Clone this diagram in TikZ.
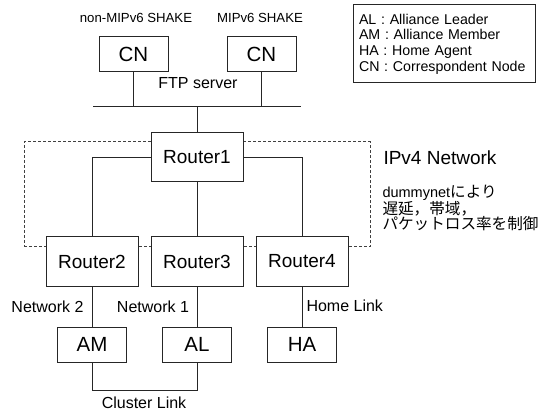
\documentclass[tikz,border=0pt]{standalone}
\usepackage{fontspec}
\setmainfont{Liberation Sans}
\newfontfamily\jpfont{Noto Sans CJK JP}
\newfontfamily\latinfont{Liberation Sans}
\usetikzlibrary{positioning}

\begin{document}
\begin{tikzpicture}[x=1pt, y=-1pt, line width=1pt,
    every node/.style={inner sep=0pt},
    box/.style={rectangle, draw=black!85, fill=white, minimum width=69pt, minimum height=35pt, font=\fontsize{20.5}{24}\selectfont},
    router/.style={rectangle, draw=black!85, fill=white, minimum width=92pt, minimum height=49pt, font=\fontsize{19}{22}\selectfont},
    netbox/.style={rectangle, draw=black!75, dash pattern=on 3pt off 2pt, minimum width=346pt, minimum height=105pt},
    lbl/.style={font=\fontsize{16}{19}\selectfont},
    small/.style={font=\fontsize{13.2}{16}\selectfont},
    legend/.style={rectangle, draw=black!85, minimum width=182pt, minimum height=78pt, text width=170pt, align=left, font=\fontsize{14.2}{15.7}\selectfont},
    note/.style={align=left, font=\jpfont\fontsize{15.6}{15}\selectfont},
    link/.style={draw=black!85}]
    \useasboundingbox (0,0) rectangle (542,412);

    % CN hosts and FTP segment
    \node[small] (labA) at (136,18) {non-MIPv6 SHAKE};
    \node[small] (labB) at (260,18) {MIPv6 SHAKE};
    \node[box] (cnA) at (133.5,54.5) {CN};
    \node[box, right=58pt of cnA] (cnB) {CN};
    \node[lbl] (ftp) at (198,83) {FTP server};
    \coordinate (busL) at (93,107);
    \coordinate (busR) at (301,107);

    % IPv4 Network
    \node[netbox] (ipv4) at (197,194.5) {};
    \node[router] (r1) at (197,157.5) {Router1};
    \node[router, below=54pt of r1] (r3) {Router3};
    \node[router, left=12pt of r3] (r2) {Router2};
    \node[router, right=12pt of r3] (r4) {Router4};

    % Mobile nodes and HA
    \node[box, below=40pt of r2] (am) {AM};
    \node[box, below=40pt of r3] (al) {AL};
    \node[box, below=40pt of r4] (ha) {HA};

    % Link labels
    \node[lbl] (net2) at (47.5,307) {Network 2};
    \node[lbl] (net1) at (153,307) {Network 1};
    \node[lbl, anchor=west] (home) at (306,306) {Home Link};
    \node[lbl] (cluster) at (144,403) {Cluster Link};

    % Legend and notes
    \node[legend] (key) at (444,44) {AL : Alliance Leader\\AM : Alliance Member\\HA : Home Agent\\CN : Correspondent Node};
    \node[font=\fontsize{19}{22}\selectfont, anchor=west] (ipv4lab) at (383,158) {IPv4 Network};
    \node[note, anchor=west] (dummy) at (382,208) {{\latinfont\fontsize{14.5}{15}\selectfont dummynet}により\\遅延，帯域，\\パケットロス率を制御};

    % Links
    \draw[link] (busL) -- (busR);
    \draw[link] (cnA) -- (cnA |- busL);
    \draw[link] (cnB) -- (cnB |- busL);
    \draw[link] (r1) -- (r1 |- busL);
    \draw[link] (r1.west) -| (r2);
    \draw[link] (r1) -- (r3);
    \draw[link] (r1.east) -| (r4);
    \draw[link] (r2) -- (am);
    \draw[link] (r3) -- (al);
    \draw[link] (r4) -- (ha);
    \draw[link] (am.south) -- ++(0,28) -| (al.south);
\end{tikzpicture}
\end{document}
